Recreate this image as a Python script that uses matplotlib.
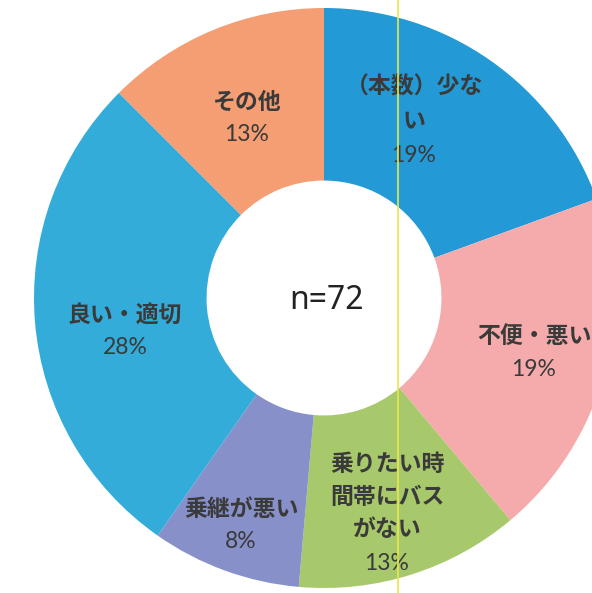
import matplotlib
matplotlib.use("Agg")
import matplotlib.pyplot as plt

# data
categories = ["(本数)少ない", "不便・悪い", "乗りたい時間帯にバスがない", "乗継が悪い", "良い・適切", "その他"]
counts = [14, 14, 9, 6, 20, 9]
label_lines = ["（本数）少な\nい", "不便・悪い", "乗りたい時\n間帯にバス\nがない", "乗継が悪い", "良い・適切", "その他"]
total_label = "n=72"

colors = ["#2399d6", "#f5abab", "#a8c86c", "#8790c9", "#33acda", "#f59e74"]

W, H = 592, 593
CX, CY, R = 324, 298, 290  # pixel geometry

fig = plt.figure(figsize=(W / 100, H / 100), dpi=100)
ax = fig.add_axes([0, 0, 1, 1])

ax.pie(counts, colors=colors, startangle=90, counterclock=False, radius=1.0,
       wedgeprops=dict(width=0.595, edgecolor="none"))
ax.set_xlim(-CX / R, (W - CX) / R)
ax.set_ylim((CY - H) / R, CY / R)
ax.set_aspect("equal")
ax.axis("off")

def px(x, y):
    return (x - CX) / R, (CY - y) / R

# label placement (pixel coords): x centre, name-block centre y, percent y
label_x = [414, 534, 387, 241, 125, 247]
name_y = [104, 336, 497, 509, 315, 102]
pct_y = [155, 370, 564, 541, 347, 134]
tot = sum(counts)
fam = ["Noto Sans CJK JP", "DejaVu Sans"]
for lab, c, x, ny, py in zip(label_lines, counts, label_x, name_y, pct_y):
    pct = f"{int(c / tot * 100 + 0.5):d}%"
    ax.text(*px(x, ny), lab, ha="center", va="center", fontsize=16.5,
            color="#3a3a3a", family=fam, fontweight="bold", linespacing=1.55)
    ax.text(*px(x, py), pct, ha="center", va="center", fontsize=16.5,
            color="#3a3a3a", family=["Lato", "DejaVu Sans"])

ax.text(*px(326, 300), total_label, ha="center", va="center", fontsize=23,
        color="#222222", family=["Noto Sans", "DejaVu Sans"])

# thin yellow scan line
fig.add_artist(plt.Line2D([398 / W, 398 / W], [0, 1], color="#e8e84a", lw=1.2,
                          transform=fig.transFigure))

fig.savefig("out.png", dpi=100, facecolor="white")
